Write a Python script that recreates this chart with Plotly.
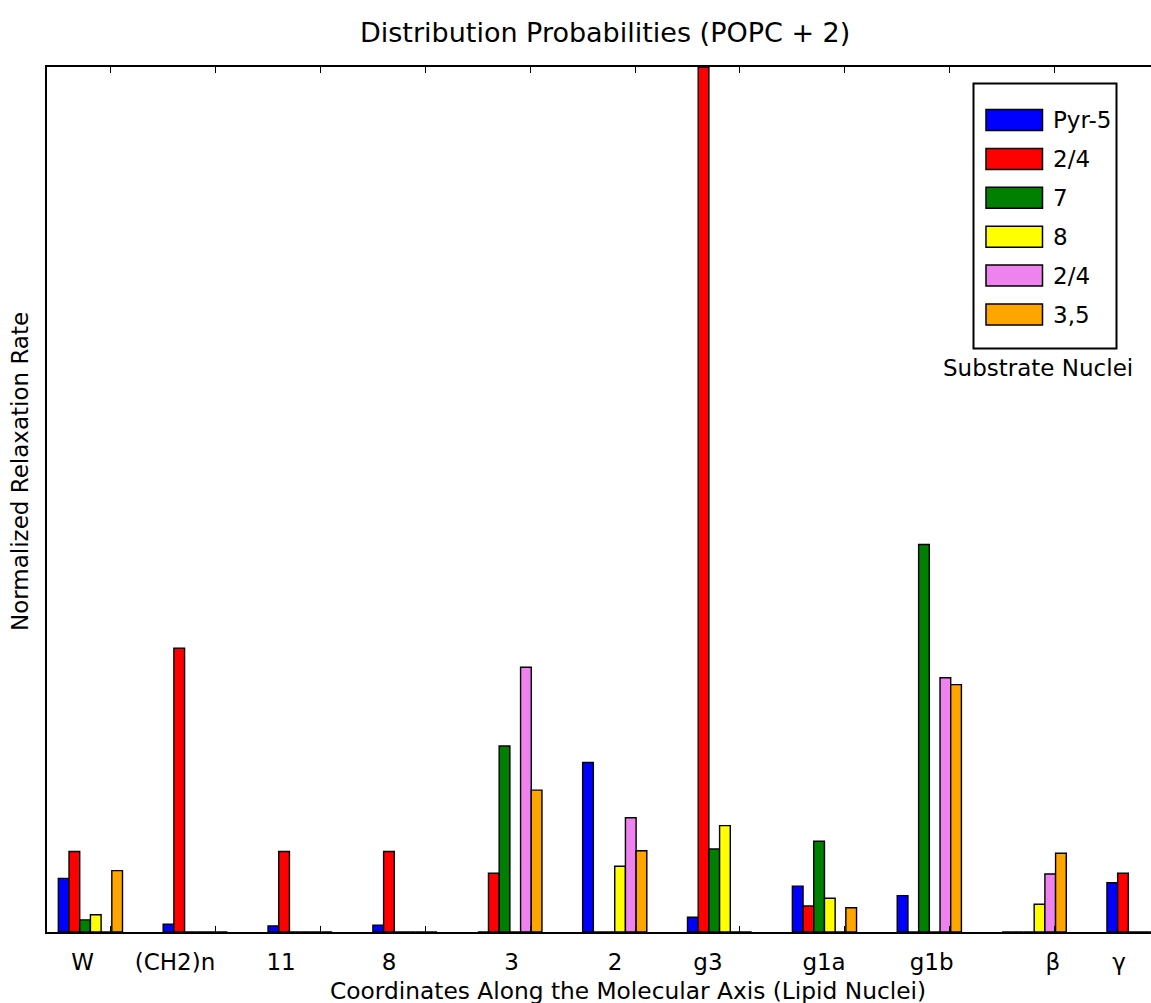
import plotly.graph_objects as go

# ---- data ----
categories = ["W", "(CH2)n", "11", "8", "3", "2", "g3", "g1a", "g1b", "\u03b2", "\u03b3"]
series_names = ["Pyr-5", "2/4", "7", "8", "2/4", "3,5"]
series_colors = ["#0000ff", "#ff0000", "#008000", "#ffff00", "#ee82ee", "#ffa500"]

pyr5 = [0.062, 0.009, 0.007, 0.008, 0.000, 0.196, 0.017, 0.053, 0.042, 0.000, 0.057]
n24a = [0.093, 0.328, 0.093, 0.093, 0.068, 0.000, 1.000, 0.030, 0.000, 0.000, 0.068]
n7 = [0.014, 0.000, 0.000, 0.000, 0.215, 0.000, 0.096, 0.105, 0.448, 0.000, 0.000]
n8 = [0.020, 0.000, 0.000, 0.000, 0.000, 0.076, 0.123, 0.039, 0.000, 0.032, 0.000]
n24b = [0.000, 0.000, 0.000, 0.000, 0.306, 0.132, 0.000, 0.000, 0.294, 0.067, 0.000]
n35 = [0.071, 0.000, 0.000, 0.000, 0.164, 0.094, 0.000, 0.028, 0.286, 0.091, 0.000]
series_values = [pyr5, n24a, n7, n8, n24b, n35]

# label positions along the axis (group units)
label_positions = [0.231, 1.113, 2.124, 3.153, 4.323, 5.308, 6.195, 7.302, 8.328, 9.485, 10.115]
tick_positions = [i + 0.5 for i in range(10)]

# ---- layout geometry ----
W_PX, H_PX = 1151, 1003
L, R, T, B = 47, 0, 67, 71
PW, PH = W_PX - L - R, H_PX - T - B
bar_w = 0.102
x_range = [-0.108, 10.42]
FONT = "DejaVu Sans"
FS = 23


def px_x(px):
    return (px - L) / PW


def px_y(py):
    return (H_PX - B - py) / PH


ind = list(range(len(categories)))
fig = go.Figure()
for j, (name, color, vals) in enumerate(zip(series_names, series_colors, series_values)):
    fig.add_trace(go.Bar(
        x=ind, y=vals, name=name, width=bar_w, offset=j * bar_w,
        marker=dict(color=color, line=dict(color="black", width=1.4)),
        showlegend=False, xaxis="x", yaxis="y",
    ))

# invisible trace for the label axis
fig.add_trace(go.Scatter(x=[x_range[0]], y=[0], xaxis="x2", yaxis="y",
                         mode="markers", marker=dict(opacity=0), showlegend=False,
                         hoverinfo="skip"))

shapes = []
annotations = []

# custom legend
box_x0, box_x1, box_top, box_bot = 973.5, 1116.5, 83.5, 348.5
shapes.append(dict(type="rect", xref="paper", yref="paper",
                   x0=px_x(box_x0), x1=px_x(box_x1), y0=px_y(box_bot), y1=px_y(box_top),
                   line=dict(color="black", width=2), fillcolor="white", layer="above"))
row0, row_step = 120, 38.9
for k, (name, color) in enumerate(zip(series_names, series_colors)):
    cy = row0 + k * row_step
    shapes.append(dict(type="rect", xref="paper", yref="paper",
                       x0=px_x(986), x1=px_x(1042.5), y0=px_y(cy + 10.5), y1=px_y(cy - 10.5),
                       line=dict(color="black", width=1.5), fillcolor=color, layer="above"))
    annotations.append(dict(text=name, xref="paper", yref="paper", x=px_x(1051), y=px_y(cy),
                            xanchor="left", yanchor="middle", showarrow=False,
                            font=dict(family=FONT, size=FS, color="black")))
annotations.append(dict(text="Substrate Nuclei", xref="paper", yref="paper",
                        x=px_x(1038), y=px_y(368), xanchor="center", yanchor="middle",
                        showarrow=False, font=dict(family=FONT, size=FS, color="black")))

# titles
annotations.append(dict(text="Distribution Probabilities (POPC + 2)", xref="paper", yref="paper",
                        x=px_x(604.5), y=px_y(32), xanchor="center", yanchor="middle",
                        showarrow=False, font=dict(family=FONT, size=27, color="black")))
annotations.append(dict(text="Coordinates Along the Molecular Axis (Lipid Nuclei)", xref="paper",
                        yref="paper", x=px_x(628), y=px_y(990), xanchor="center", yanchor="middle",
                        showarrow=False, font=dict(family=FONT, size=23.3, color="black")))
annotations.append(dict(text="Normalized Relaxation Rate", xref="paper", yref="paper",
                        x=px_x(20), y=px_y(472), xanchor="center", yanchor="middle",
                        textangle=-90, showarrow=False,
                        font=dict(family=FONT, size=FS, color="black")))

fig.update_layout(
    width=W_PX, height=H_PX,
    margin=dict(l=L, r=R, t=T, b=B, pad=0),
    paper_bgcolor="white", plot_bgcolor="white",
    barmode="overlay",
    showlegend=False,
    font=dict(family=FONT, size=FS, color="black"),
    xaxis=dict(range=x_range, tickmode="array", tickvals=tick_positions,
               ticktext=[""] * len(tick_positions), ticks="inside", ticklen=6,
               tickwidth=1, tickcolor="black", showgrid=False, zeroline=False,
               showline=True, linecolor="black", linewidth=2, mirror="allticks",
               fixedrange=True),
    xaxis2=dict(range=x_range, overlaying="x", side="bottom", tickmode="array",
                tickvals=label_positions, ticktext=categories, ticks="",
                showgrid=False, zeroline=False, showline=False,
                ticklabelstandoff=14, tickfont=dict(family=FONT, size=FS, color="black")),
    yaxis=dict(range=[0, 1.0], showticklabels=False, ticks="", showgrid=False,
               zeroline=False, showline=True, linecolor="black", linewidth=2,
               mirror=False),
    shapes=shapes,
    annotations=annotations,
)

fig.write_html("out.html")
